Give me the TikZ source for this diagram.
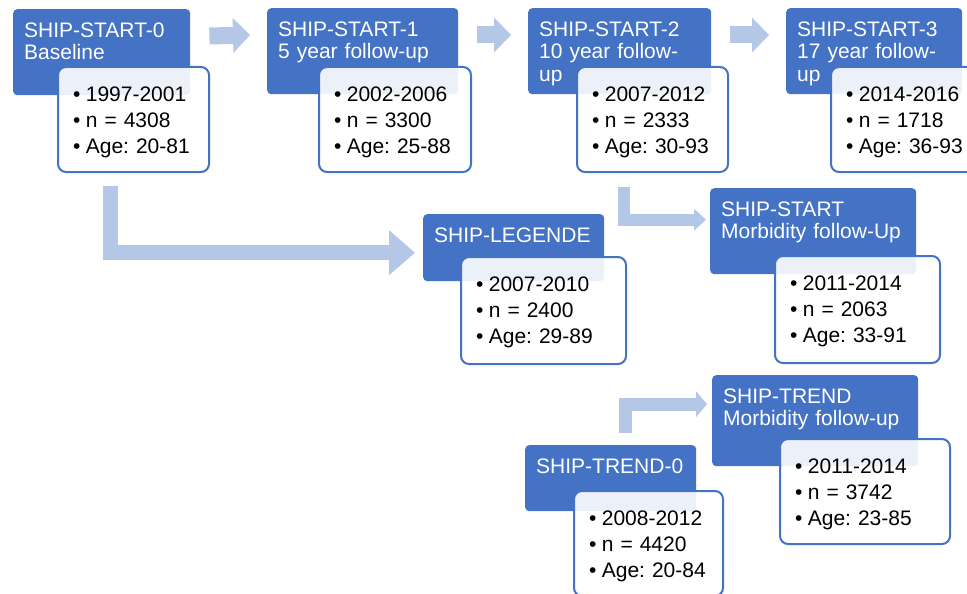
\documentclass[tikz,border=0pt]{standalone}
\usepackage{fontspec}
\setmainfont{Liberation Sans}
\usetikzlibrary{arrows.meta, calc}
\definecolor{shipBlue}{HTML}{4472C4}
\definecolor{flowBlue}{HTML}{B4C7E7}
\newcommand{\bul}{\textbullet\hspace{5.5pt}}

\begin{document}
\frenchspacing
\begin{tikzpicture}[x=1pt, y=-1pt,
    hdr/.style 2 args={fill=shipBlue, text=white, rounded corners=4pt, anchor=north west,
      align=left, font=\fontsize{21pt}{22.5pt}\selectfont\frenchspacing, inner xsep=11pt, inner ysep=13pt,
      text width=#1-22, text height=15pt, text depth=#2-41},
    det/.style 2 args={draw=shipBlue, line width=2pt, fill=white, fill opacity=0.9, text opacity=1,
      rounded corners=8pt, anchor=north west, align=left, font=\fontsize{21pt}{26pt}\selectfont\frenchspacing,
      inner xsep=15pt, inner ysep=19pt, text width=#1-28, text height=15pt, text depth=#2-53},
    flow/.style={draw=flowBlue, line width=#1}]
    \useasboundingbox (0,0) rectangle (967,594);

    % follow-up chain
    \node[hdr={177}{86}] (h0) at (13,9)  {SHIP-START-0\\Baseline};
    \node[hdr={191}{86}] (h1) at (267,8) {SHIP-START-1\\5 year follow-up};
    \node[hdr={183}{86}] (h2) at (528,8) {SHIP-START-2\\10 year follow-\\up};
    \node[hdr={176}{86}] (h3) at (786,8) {SHIP-START-3\\17 year follow-\\up};

    % side studies
    \node[hdr={181}{67}] (hleg) at (423,214) {SHIP-LEGENDE};
    \node[hdr={206}{86}] (hsm) at (710,188) {SHIP-START\\Morbidity follow-Up};
    \node[hdr={171}{66}] (ht0) at (525,445) {SHIP-TREND-0};
    \node[hdr={206}{91}] (htm) at (712,375) {SHIP-TREND\\Morbidity follow-up};

    % arrows
    \draw[flow=17pt, -{Triangle[length=17pt, width=35pt, line width=0pt]}]
        ([xshift=19pt,yshift=-27pt]h0.north east) -- ([xshift=-17pt,yshift=-27pt]h1.north west);
    \draw[flow=17pt, -{Triangle[length=17pt, width=35pt, line width=0pt]}]
        ([xshift=19pt,yshift=-27pt]h1.north east) -- ([xshift=-17pt,yshift=-27pt]h2.north west);
    \draw[flow=17pt, -{Triangle[length=17pt, width=35pt, line width=0pt]}]
        ([xshift=19pt,yshift=-27pt]h2.north east) -- ([xshift=-17pt,yshift=-27pt]h3.north west);
    \draw[flow=15.5pt, -{Triangle[length=26pt, width=45pt, line width=0pt]}]
        ($(h0.south west)+(97.5,91)$) |- ($(hleg.west)+(-8,5)$);
    \draw[flow=12pt, -{Triangle[length=12pt, width=22pt, line width=0pt]}]
        ($(h2.south west)+(95.5,93)$) |- ($(hsm.west)+(-4,-11.5)$);
    \draw[flow=13pt, -{Triangle[length=11pt, width=26pt, line width=0pt]}]
        ($(ht0.north west)+(100,-12)$) |- ($(htm.west)+(-5,-16.5)$);

    % details
    \node[det={149}{105}] (d0) at (57,66)  {\bul 1997-2001\\\bul n = 4308\\\bul Age: 20-81};
    \node[det={150}{105}] (d1) at (318,66) {\bul 2002-2006\\\bul n = 3300\\\bul Age: 25-88};
    \node[det={149}{105}] (d2) at (576,66) {\bul 2007-2012\\\bul n = 2333\\\bul Age: 30-93};
    \node[det={160}{105}] (d3) at (830,66) {\bul 2014-2016\\\bul n = 1718\\\bul Age: 36-93};
    \node[det={163}{107}] (dleg) at (460,256) {\bul 2007-2010\\\bul n = 2400\\\bul Age: 29-89};
    \node[det={163}{107}] (dsm) at (774,255) {\bul 2011-2014\\\bul n = 2063\\\bul Age: 33-91};
    \node[det={147}{105}] (dt0) at (573,490) {\bul 2008-2012\\\bul n = 4420\\\bul Age: 20-84};
    \node[det={168}{105}] (dtm) at (779,438) {\bul 2011-2014\\\bul n = 3742\\\bul Age: 23-85};
\end{tikzpicture}
\end{document}
